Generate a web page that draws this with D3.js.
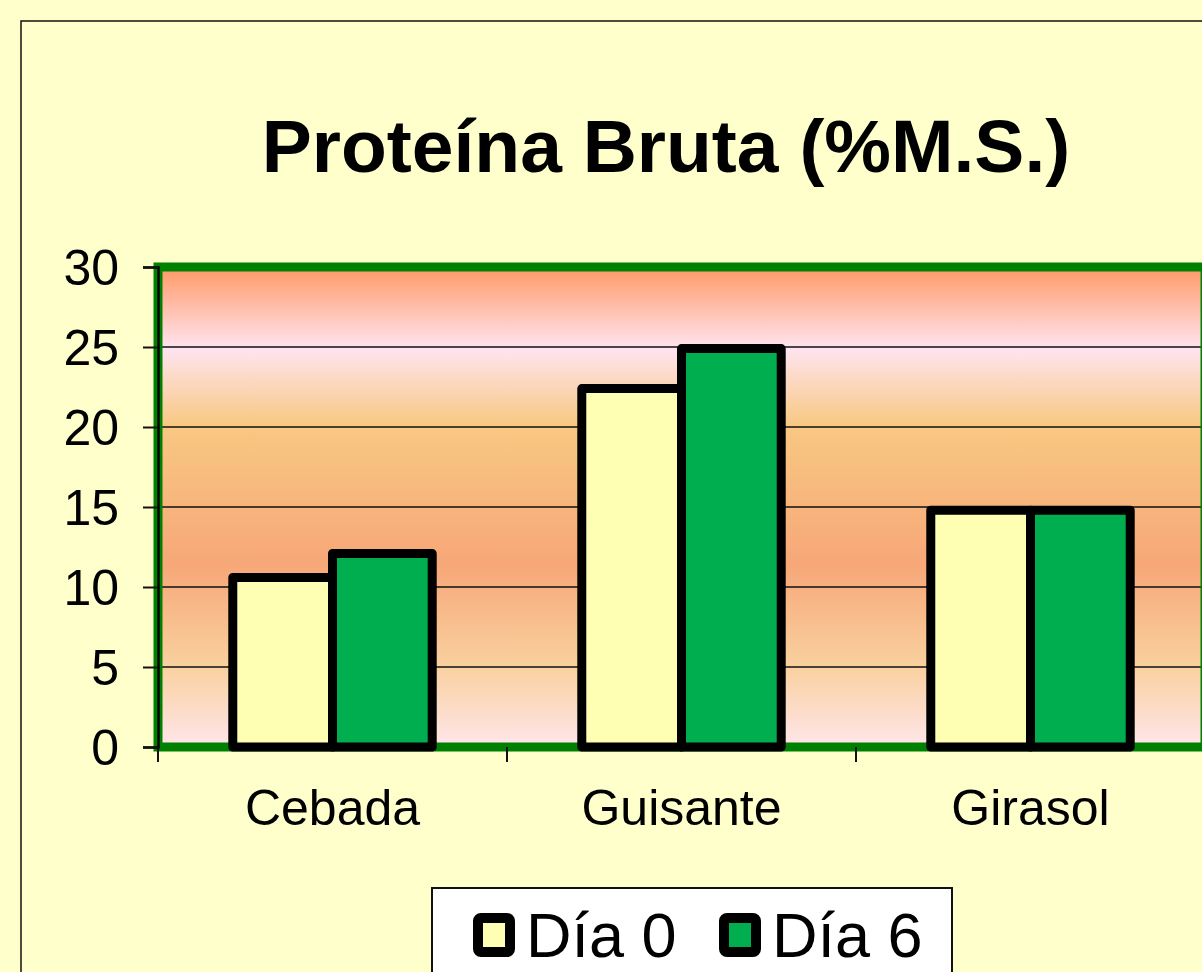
<!DOCTYPE html>
<html>
<head>
<meta charset="utf-8">
<script src="https://cdn.jsdelivr.net/npm/d3@7"></script>
<style>
  html, body { margin: 0; padding: 0; background: #FFFFCC; overflow: hidden; }
  svg { display: block; font-family: "Liberation Sans", Arial, sans-serif; }
</style>
</head>
<body>
<svg id="chart"></svg>
<script>
const categories = ["Cebada", "Guisante", "Girasol"]
const seriesNames = ["Día 0", "Día 6"]
const dia0 = [10.6, 22.4, 14.8]
const dia6 = [12.1, 24.9, 14.8]
const yTicks = [0, 5, 10, 15, 20, 25, 30]
const seriesColors = ["#FFFFB3", "#00AD4F"]

const width = 1202
const height = 972
const plot = { left: 158, top: 267, right: 1205, bottom: 747 }

const svg = d3.select('#chart')
  .attr('width', width)
  .attr('height', height)

// outer chart frame
svg.append('rect')
  .attr('x', 21).attr('y', 21)
  .attr('width', 1400).attr('height', 1200)
  .attr('fill', '#FFFFCC')
  .attr('stroke', '#111').attr('stroke-width', 1.5)

svg.append('text')
  .attr('x', 666).attr('y', 172)
  .attr('text-anchor', 'middle')
  .attr('font-size', 75).attr('font-weight', 'bold')
  .text('Proteína Bruta (%M.S.)')

const yScale = d3.scaleLinear()
  .domain([0, 30])
  .range([plot.bottom, plot.top])

const xScale = d3.scaleBand()
  .domain(categories)
  .range([plot.left, plot.right])

const xInner = d3.scaleBand()
  .domain(seriesNames)
  .range([0, xScale.bandwidth()])
  .paddingOuter(0.75)

// plot area gradient
const defs = svg.append('defs')
const grad = defs.append('linearGradient')
  .attr('id', 'bg').attr('x1', 0).attr('y1', 0).attr('x2', 0).attr('y2', 1)
const stops = [
  [0, '#FF9966'], [0.17, '#FFE4F0'], [0.33, '#F8C882'],
  [0.62, '#F7A778'], [0.83, '#F9D09E'], [1, '#FFE6EA']
]
stops.forEach(s => grad.append('stop').attr('offset', s[0]).attr('stop-color', s[1]))

svg.append('rect')
  .attr('x', plot.left).attr('y', plot.top)
  .attr('width', plot.right - plot.left).attr('height', plot.bottom - plot.top)
  .attr('fill', 'url(#bg)')

// gridlines
svg.append('g')
  .selectAll('line')
  .data(yTicks.filter(t => t > 0 && t < 30))
  .enter()
  .append('line')
  .attr('x1', plot.left).attr('x2', plot.right)
  .attr('y1', d => yScale(d)).attr('y2', d => yScale(d))
  .attr('stroke', '#111').attr('stroke-width', 1.5)

// green plot border
svg.append('rect')
  .attr('x', plot.left).attr('y', plot.top)
  .attr('width', plot.right - plot.left).attr('height', plot.bottom - plot.top)
  .attr('fill', 'none')
  .attr('stroke', '#008000').attr('stroke-width', 9)

// bars
const data = []
categories.forEach((c, i) => {
  data.push({ cat: c, s: seriesNames[0], v: dia0[i], color: seriesColors[0] })
  data.push({ cat: c, s: seriesNames[1], v: dia6[i], color: seriesColors[1] })
})

svg.append('g')
  .selectAll('rect')
  .data(data)
  .enter()
  .append('rect')
  .attr('x', d => xScale(d.cat) + xInner(d.s))
  .attr('y', d => yScale(d.v))
  .attr('width', xInner.bandwidth())
  .attr('height', d => yScale(0) - yScale(d.v))
  .attr('fill', d => d.color)
  .attr('stroke', '#000').attr('stroke-width', 9)
  .attr('stroke-linejoin', 'round')

// axes
const yAxis = d3.axisLeft(yScale).tickValues(yTicks).tickSize(15).tickPadding(24)
const yG = svg.append('g')
  .attr('transform', `translate(${plot.left}, 0)`)
  .call(yAxis)
yG.select('.domain').attr('stroke', '#000').attr('stroke-width', 2.5)
yG.selectAll('.tick line').attr('stroke', '#111').attr('stroke-width', 2)
yG.selectAll('.tick text')
  .attr('font-size', 50).attr('fill', '#000')
  .attr('font-family', '"Liberation Sans", Arial, sans-serif')
  .attr('dy', '0.35em')

const xAxis = d3.axisBottom(xScale).tickSize(0).tickPadding(0)
const xG = svg.append('g')
  .attr('transform', `translate(0, ${plot.bottom})`)
  .call(xAxis)
xG.select('.domain').remove()
xG.selectAll('.tick text')
  .attr('font-size', 50).attr('fill', '#000')
  .attr('font-family', '"Liberation Sans", Arial, sans-serif')
  .attr('y', 78).attr('dy', 0)

// category separator ticks
svg.append('g')
  .selectAll('line')
  .data(categories)
  .enter()
  .append('line')
  .attr('x1', d => xScale(d)).attr('x2', d => xScale(d))
  .attr('y1', plot.bottom).attr('y2', plot.bottom + 15)
  .attr('stroke', '#111').attr('stroke-width', 2)

// legend
const legend = svg.append('g')
legend.append('rect')
  .attr('x', 432).attr('y', 888)
  .attr('width', 520).attr('height', 120)
  .attr('fill', '#fff')
  .attr('stroke', '#111').attr('stroke-width', 2)

const legendX = [478, 724]
seriesNames.forEach((name, i) => {
  legend.append('rect')
    .attr('x', legendX[i]).attr('y', 918)
    .attr('width', 32).attr('height', 34)
    .attr('rx', 3)
    .attr('fill', seriesColors[i])
    .attr('stroke', '#000').attr('stroke-width', 10)
    .attr('stroke-linejoin', 'round')
  legend.append('text')
    .attr('x', legendX[i] + 48).attr('y', 957)
    .attr('font-size', 63)
    .text(name)
})
</script>
</body>
</html>
